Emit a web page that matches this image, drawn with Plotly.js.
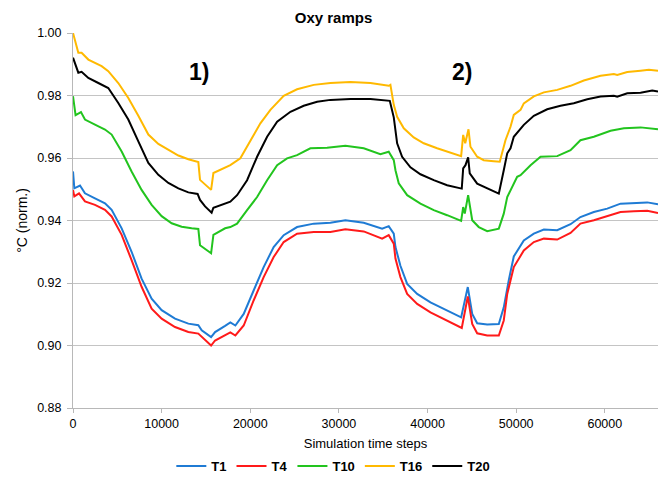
<!DOCTYPE html>
<html>
<head>
<meta charset="utf-8">
<script src="https://cdn.plot.ly/plotly-3.0.1.min.js"></script>
<style>
  html, body { margin: 0; padding: 0; background: #ffffff; }
  #chart { width: 667px; height: 480px; }
</style>
</head>
<body>
<div id="chart"></div>
<script>
// Normalised temperature at five probes during two oxygen ramps.

const seriesNames = ['T1', 'T4', 'T10', 'T16', 'T20'];
const seriesColors = ['#1f7bd4', '#ff1a1a', '#22c41e', '#ffb900', '#000000'];

const stepsT1 = [0, 150, 790, 1350, 2480, 3610, 4360, 5490, 6610, 7740, 8870, 10000, 11510, 13010, 14140, 14520, 15580, 16030, 17160, 17750, 18320, 19260, 20380, 21510, 22640, 23770, 25280, 27160, 29040, 30730, 32800, 34880, 35620, 36190, 36380, 36940, 37700, 38830, 40330, 42210, 43790, 44540, 45040, 45600, 46730, 48040, 48230, 48600, 49170, 49730, 50860, 51990, 53120, 54630, 56130, 57250, 58760, 60270, 61770, 63280, 64790, 66000];
const valuesT1 = [0.9557, 0.9503, 0.9512, 0.9487, 0.9471, 0.9455, 0.9434, 0.9375, 0.9300, 0.9214, 0.9150, 0.9113, 0.9086, 0.9070, 0.9065, 0.9049, 0.9027, 0.9043, 0.9063, 0.9074, 0.9064, 0.9101, 0.9176, 0.9251, 0.9315, 0.9353, 0.9379, 0.9390, 0.9393, 0.9401, 0.9393, 0.9374, 0.9382, 0.9358, 0.9315, 0.9255, 0.9197, 0.9165, 0.9138, 0.9112, 0.9090, 0.9187, 0.9101, 0.9071, 0.9067, 0.9069, 0.9090, 0.9122, 0.9210, 0.9285, 0.9336, 0.9358, 0.9371, 0.9369, 0.9388, 0.9411, 0.9427, 0.9438, 0.9454, 0.9456, 0.9458, 0.9452];

const stepsT4 = [0, 150, 680, 1350, 2480, 3610, 4360, 5490, 6610, 7740, 8870, 10000, 11510, 13010, 14140, 14710, 15580, 16030, 17160, 17750, 18320, 19260, 20380, 21510, 22640, 23770, 25280, 27160, 29040, 30730, 32800, 34880, 35620, 36190, 36380, 36940, 37700, 38830, 40330, 42210, 43860, 44540, 45040, 45600, 46730, 48040, 48600, 48990, 49170, 49730, 50860, 51990, 53120, 54630, 56130, 57250, 58760, 60270, 61770, 63280, 64790, 66000];
const valuesT4 = [0.9498, 0.9477, 0.9487, 0.9461, 0.9450, 0.9434, 0.9413, 0.9354, 0.9273, 0.9188, 0.9118, 0.9086, 0.9059, 0.9043, 0.9038, 0.9022, 0.9000, 0.9016, 0.9033, 0.9042, 0.9032, 0.9064, 0.9144, 0.9219, 0.9283, 0.9331, 0.9358, 0.9363, 0.9363, 0.9372, 0.9365, 0.9342, 0.9353, 0.9326, 0.9278, 0.9219, 0.9165, 0.9133, 0.9106, 0.9080, 0.9056, 0.9157, 0.9069, 0.9039, 0.9032, 0.9032, 0.9080, 0.9165, 0.9187, 0.9251, 0.9304, 0.9331, 0.9342, 0.9339, 0.9360, 0.9390, 0.9401, 0.9414, 0.9427, 0.9430, 0.9431, 0.9424];

const stepsT10 = [0, 290, 900, 1350, 2480, 3610, 4360, 5490, 6610, 7740, 8870, 10000, 11130, 12260, 13390, 14140, 14330, 15580, 15840, 17160, 17750, 18510, 19640, 20770, 21900, 23030, 24150, 25280, 26780, 28670, 30730, 32800, 34680, 35620, 36190, 36380, 36750, 37700, 39200, 40700, 42210, 43790, 44020, 44200, 44580, 45040, 45780, 46730, 48040, 48600, 48990, 49360, 50110, 50490, 51620, 52750, 54630, 56130, 57250, 58760, 60650, 62150, 64030, 66000];
const valuesT10 = [0.9798, 0.9737, 0.9747, 0.9723, 0.9707, 0.9691, 0.9675, 0.9621, 0.9557, 0.9498, 0.9450, 0.9414, 0.9391, 0.9380, 0.9375, 0.9373, 0.9321, 0.9295, 0.9354, 0.9375, 0.9379, 0.9390, 0.9433, 0.9475, 0.9529, 0.9577, 0.9599, 0.9609, 0.9631, 0.9633, 0.9639, 0.9631, 0.9612, 0.9620, 0.9593, 0.9561, 0.9519, 0.9481, 0.9454, 0.9433, 0.9417, 0.9399, 0.9443, 0.9422, 0.9481, 0.9401, 0.9379, 0.9366, 0.9374, 0.9422, 0.9475, 0.9497, 0.9540, 0.9545, 0.9577, 0.9604, 0.9606, 0.9625, 0.9657, 0.9668, 0.9687, 0.9695, 0.9698, 0.9692];

const stepsT16 = [0, 600, 970, 1730, 3230, 3980, 5110, 6240, 7370, 8500, 9630, 10760, 11890, 13010, 14140, 14330, 15580, 15840, 17160, 17750, 18880, 20010, 21140, 22270, 23770, 25280, 27160, 29040, 31300, 33560, 35620, 35810, 36190, 36570, 37320, 38440, 39570, 41080, 42580, 43790, 44020, 44250, 44620, 44840, 45600, 46340, 47470, 48150, 48790, 49360, 49730, 50490, 50860, 51990, 53120, 54630, 56130, 57630, 59520, 61020, 61400, 62530, 64030, 64970, 66000];
const valuesT16 = [1.0000, 0.9937, 0.9937, 0.9915, 0.9894, 0.9878, 0.9840, 0.9792, 0.9735, 0.9675, 0.9645, 0.9627, 0.9608, 0.9596, 0.9587, 0.9530, 0.9498, 0.9552, 0.9568, 0.9577, 0.9599, 0.9657, 0.9711, 0.9754, 0.9799, 0.9820, 0.9834, 0.9840, 0.9843, 0.9840, 0.9831, 0.9834, 0.9770, 0.9732, 0.9695, 0.9666, 0.9647, 0.9631, 0.9617, 0.9606, 0.9674, 0.9647, 0.9692, 0.9636, 0.9604, 0.9593, 0.9590, 0.9588, 0.9657, 0.9700, 0.9738, 0.9754, 0.9775, 0.9797, 0.9810, 0.9818, 0.9831, 0.9848, 0.9863, 0.9869, 0.9866, 0.9875, 0.9879, 0.9882, 0.9879];

const stepsT20 = [0, 600, 970, 1730, 2860, 3980, 5110, 6240, 7370, 8500, 9630, 10760, 11890, 13010, 14060, 14330, 14900, 15640, 15840, 16770, 17750, 18510, 19640, 20770, 21900, 23030, 24530, 26030, 27540, 29040, 31300, 33560, 35060, 35740, 36190, 36570, 37130, 38070, 39200, 40700, 42210, 43860, 44020, 44280, 44580, 44760, 45600, 46730, 48040, 48600, 48990, 49360, 49730, 50860, 51990, 53500, 55000, 56500, 58020, 59520, 61020, 61400, 62530, 64030, 65350, 66000];
const valuesT20 = [0.9921, 0.9873, 0.9876, 0.9856, 0.9840, 0.9824, 0.9776, 0.9723, 0.9653, 0.9584, 0.9546, 0.9520, 0.9503, 0.9490, 0.9485, 0.9466, 0.9445, 0.9425, 0.9441, 0.9450, 0.9460, 0.9481, 0.9529, 0.9604, 0.9668, 0.9716, 0.9748, 0.9767, 0.9780, 0.9786, 0.9789, 0.9789, 0.9784, 0.9783, 0.9730, 0.9647, 0.9604, 0.9570, 0.9548, 0.9529, 0.9513, 0.9502, 0.9567, 0.9577, 0.9602, 0.9551, 0.9518, 0.9502, 0.9486, 0.9561, 0.9615, 0.9631, 0.9668, 0.9706, 0.9735, 0.9756, 0.9767, 0.9775, 0.9788, 0.9797, 0.9799, 0.9796, 0.9807, 0.9809, 0.9816, 0.9813];

const xTickValues = [0, 10000, 20000, 30000, 40000, 50000, 60000];
const yTickValues = [0.88, 0.90, 0.92, 0.94, 0.96, 0.98, 1.00];

const allSteps = [stepsT1, stepsT4, stepsT10, stepsT16, stepsT20];
const allValues = [valuesT1, valuesT4, valuesT10, valuesT16, valuesT20];

const baseFont = 'Liberation Sans, Arial, sans-serif';
const narrowFont = 'Liberation Sans Narrow, Arial Narrow, Liberation Sans, Arial, sans-serif';

const traces = seriesNames.map((name, i) => ({
  type: 'scatter',
  mode: 'lines',
  name: name,
  x: allSteps[i],
  y: allValues[i],
  line: { color: seriesColors[i], width: 2 },
  hoverinfo: 'x+y+name'
}));

const axisGrey = '#b8b8b8';

const layout = {
  width: 667,
  height: 480,
  margin: { l: 73, r: 9, t: 33, b: 72, autoexpand: false },
  paper_bgcolor: '#ffffff',
  plot_bgcolor: '#ffffff',
  font: { family: baseFont, color: '#000000', size: 12 },
  title: {
    text: 'Oxy ramps',
    font: { family: baseFont, size: 15, weight: 'bold', color: '#000000' },
    x: 0.5, xanchor: 'center',
    y: 1 - 18 / 480, yanchor: 'middle'
  },
  xaxis: {
    range: [0, 66000],
    tickvals: xTickValues,
    tickformat: 'd',
    showgrid: false,
    zeroline: false,
    showline: true,
    linecolor: axisGrey,
    linewidth: 1,
    ticks: 'outside',
    ticklen: 4,
    tickcolor: axisGrey,
    tickfont: { family: baseFont, size: 12.5 },
    title: {
      text: 'Simulation time steps',
      font: { family: narrowFont, size: 13 },
      standoff: 8
    },
    automargin: false
  },
  yaxis: {
    range: [0.88, 1.00],
    tickvals: yTickValues,
    tickformat: '.2f',
    showgrid: true,
    gridcolor: '#c4c4c4',
    gridwidth: 1,
    zeroline: false,
    showline: true,
    linecolor: axisGrey,
    linewidth: 1,
    ticks: 'outside',
    ticklen: 5,
    tickcolor: axisGrey,
    ticklabelstandoff: 3,
    tickfont: { family: baseFont, size: 12.5 },
    title: {
      text: '°C (norm.)',
      font: { family: baseFont, size: 14 },
      standoff: 6
    },
    automargin: false
  },
  legend: {
    orientation: 'h',
    x: 0.445, xanchor: 'center',
    y: (408 - 466) / 375, yanchor: 'middle',
    font: { family: narrowFont, size: 13, weight: 'bold' },
    bgcolor: 'rgba(0,0,0,0)',
    itemwidth: 30,
    tracegroupgap: 0
  },
  annotations: [
    {
      text: '1)', xref: 'paper', yref: 'paper',
      x: (199 - 73) / 585, y: (408 - 72) / 375,
      xanchor: 'center', yanchor: 'middle', showarrow: false,
      font: { family: narrowFont, size: 23, weight: 'bold', color: '#000000' }
    },
    {
      text: '2)', xref: 'paper', yref: 'paper',
      x: (462 - 73) / 585, y: (408 - 72) / 375,
      xanchor: 'center', yanchor: 'middle', showarrow: false,
      font: { family: narrowFont, size: 23, weight: 'bold', color: '#000000' }
    }
  ],
  showlegend: true
};

Plotly.newPlot('chart', traces, layout, { displayModeBar: false, responsive: false, staticPlot: true });
</script>
</body>
</html>
